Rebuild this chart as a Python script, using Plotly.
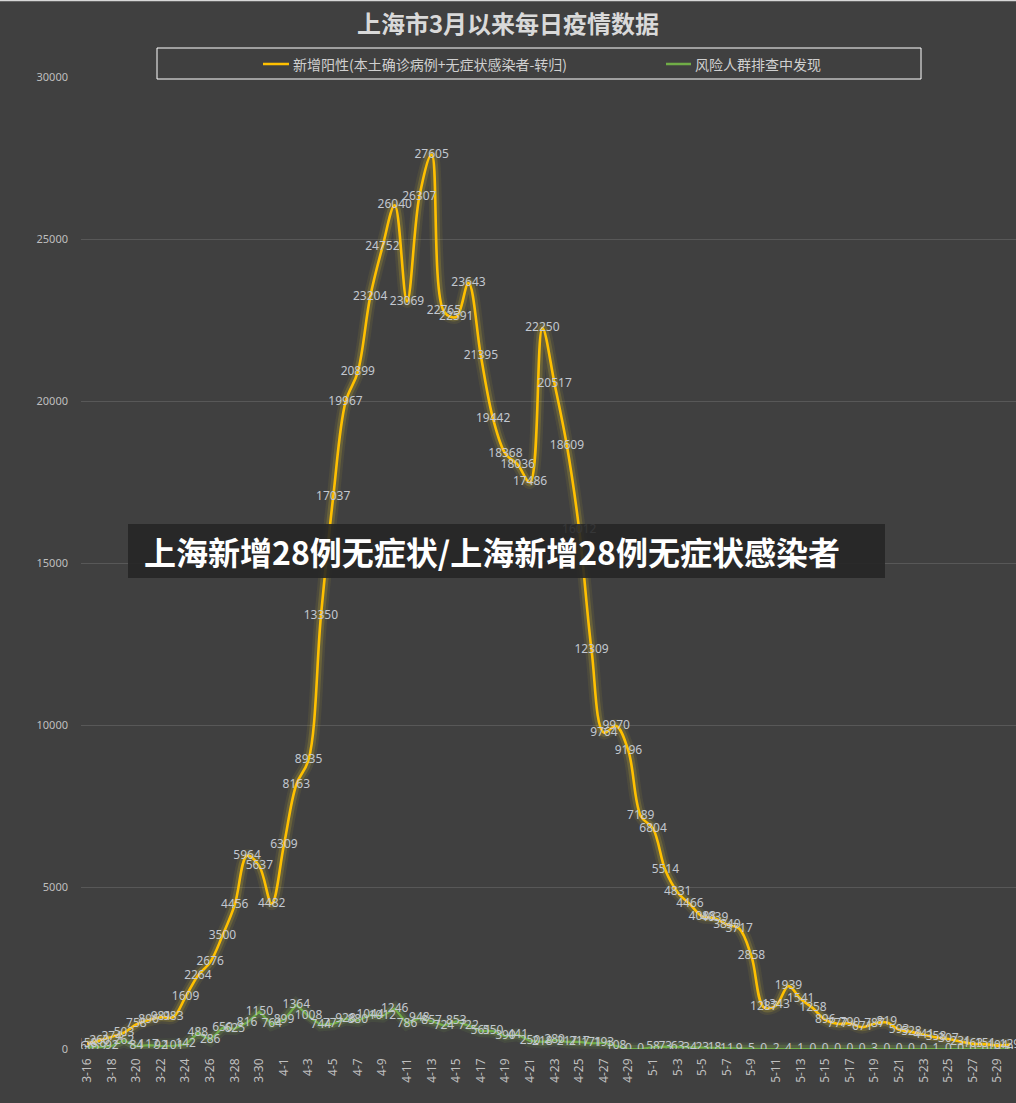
import plotly.graph_objects as go

# ---------------- data ----------------
dates = (
    [f"3-{d}" for d in range(16, 32)]
    + [f"4-{d}" for d in range(1, 31)]
    + [f"5-{d}" for d in range(1, 31)]
)

new_positive = [
    158, 260, 374, 503, 758, 896, 981, 983, 1609, 2264, 2676, 3500, 4456, 5964, 5637, 4482,   # 3-16..3-31
    6309, 8163, 8935, 13350, 17037, 19967, 20899, 23204, 24752, 26040,                          # 4-1..4-10
    23069, 26307, 27605, 22765, 22591, 23643, 21395, 19442, 18368, 18036,                       # 4-11..4-20
    17486, 22250, 20517, 18609, 16012, 12309, 9764, 9970, 9196, 7189,                           # 4-21..4-30
    6804, 5514, 4831, 4466, 4088, 4039, 3840, 3717, 2858, 1287,                                  # 5-1..5-10
    1343, 1939, 1541, 1258, 896, 777, 790, 671, 787, 819,                                        # 5-11..5-20
    593, 528, 441, 358, 307, 231, 163, 151, 104, 129,                                            # 5-21..5-30
]

risk_screening = [
    66, 59, 92, 262, 84, 117, 92, 101, 142, 488, 286, 650, 625, 816, 1150, 764,                 # 3-16..3-31
    899, 1364, 1008, 744, 777, 928, 880, 1044, 1012, 1246,                                       # 4-1..4-10
    786, 948, 857, 724, 853, 722, 561, 550, 390, 441,                                            # 4-11..4-20
    250, 218, 280, 217, 217, 171, 193, 108, 0, 0,                                                # 4-21..4-30
    58, 73, 63, 34, 23, 18, 11, 9, 5, 0,                                                         # 5-1..5-10
    2, 4, 1, 0, 0, 0, 0, 0, 3, 0,                                                                # 5-11..5-20
    0, 0, 0, 1, 0, 0, 0, 0, 0, 0,                                                                # 5-21..5-30
]

series_names = ["新增阳性(本土确诊病例+无症状感染者-转归)", "风险人群排查中发现"]
y_ticks = [0, 5000, 10000, 15000, 20000, 25000, 30000]
title_text = "上海市3月以来每日疫情数据"
banner_text = "上海新增28例无症状/上海新增28例无症状感染者"

# ---------------- styling / geometry ----------------
W, H = 1016, 1103
L, R, T, B = 81, 1016, 77, 1049
BG = "#404040"
YELLOW = "#FFC000"
GREEN = "#70AD47"
LABEL = "#c3c8d0"
CJK = "Noto Sans CJK SC, Noto Sans, sans-serif"


def px(x):
    return (x - L) / (R - L)


def py(y):
    return (B - y) / (B - T)


xs = list(range(len(dates)))

fig = go.Figure()

# glow layers
for w, a in [(13, 0.07), (8, 0.16)]:
    fig.add_trace(go.Scatter(
        x=xs, y=risk_screening, mode="lines",
        line=dict(color=f"rgba(160,220,80,{a})", width=w, shape="linear"),
        hoverinfo="skip", showlegend=False))
    fig.add_trace(go.Scatter(
        x=xs, y=new_positive, mode="lines",
        line=dict(color=f"rgba(255,225,40,{a})", width=w, shape="spline", smoothing=1),
        hoverinfo="skip", showlegend=False))

# main lines
fig.add_trace(go.Scatter(
    x=xs, y=risk_screening, mode="lines+text", name=series_names[1],
    line=dict(color=GREEN, width=2.2, shape="linear"),
    text=[str(v) for v in risk_screening], textposition="middle center",
    textfont=dict(family="Noto Sans, sans-serif", size=12, color=LABEL),
    showlegend=False))
fig.add_trace(go.Scatter(
    x=xs, y=new_positive, mode="lines+text", name=series_names[0],
    line=dict(color=YELLOW, width=2.6, shape="spline", smoothing=1),
    text=[str(v) for v in new_positive], textposition="middle center",
    textfont=dict(family="Noto Sans, sans-serif", size=12, color=LABEL),
    showlegend=False))

shapes = []
annotations = []

# legend box
shapes.append(dict(type="rect", xref="paper", yref="paper",
                   x0=px(157), x1=px(921), y0=py(79), y1=py(48),
                   line=dict(color="#ffffff", width=1), fillcolor=BG, layer="above"))
leg_y = 64
for (x0, x1, tx, col, name) in [(263, 289, 291, YELLOW, series_names[0]),
                                 (666, 691, 693, GREEN, series_names[1])]:
    shapes.append(dict(type="line", xref="paper", yref="paper",
                       x0=px(x0), x1=px(x1), y0=py(leg_y), y1=py(leg_y),
                       line=dict(color=col, width=2.5), layer="above"))
    annotations.append(dict(xref="paper", yref="paper", x=px(tx), y=py(leg_y),
                            xanchor="left", yanchor="middle", showarrow=False,
                            text=name, font=dict(family=CJK, size=14, color="#d0d0d0")))

# banner overlay
shapes.append(dict(type="rect", xref="paper", yref="paper",
                   x0=px(128), x1=px(885), y0=py(578), y1=py(524),
                   line=dict(width=0), fillcolor="rgba(38,38,38,0.9)", layer="above"))
annotations.append(dict(xref="paper", yref="paper", x=px(142), y=py(551),
                        xanchor="left", yanchor="middle", showarrow=False,
                        text=f"<b>{banner_text}</b>",
                        font=dict(family=CJK, size=32, color="#ffffff")))

# top light border
shapes.append(dict(type="line", xref="paper", yref="paper",
                   x0=px(0), x1=px(W), y0=py(0.5), y1=py(0.5),
                   line=dict(color="#d8d8d8", width=1.5), layer="above"))

fig.update_layout(
    width=W, height=H,
    margin=dict(l=L, r=W - R, t=T, b=H - B, pad=0),
    paper_bgcolor=BG, plot_bgcolor=BG,
    title=dict(text=f"<b>{title_text}</b>", x=0.5, xref="container", xanchor="center",
               y=1 - 25 / H, yref="container", yanchor="middle",
               font=dict(family=CJK, size=24, color="#d9d9d9")),
    xaxis=dict(range=[-0.5, len(dates) - 0.5], tickmode="array",
               tickvals=xs[::2], ticktext=dates[::2], tickangle=-90,
               ticklabelstandoff=6,
               showgrid=False, zeroline=False, showline=False, ticks="",
               tickfont=dict(family="Noto Sans, sans-serif", size=12, color="#bfbfbf")),
    yaxis=dict(range=[0, 30000], tickmode="array", tickvals=y_ticks,
               ticktext=[str(v) for v in y_ticks], ticklabelstandoff=12,
               showgrid=True, gridcolor="#585858", gridwidth=1,
               zeroline=False, showline=False, ticks="",
               tickfont=dict(family="Noto Sans, sans-serif", size=11, color="#bfbfbf")),
    shapes=shapes, annotations=annotations,
    showlegend=False,
)

fig.write_html("out.html")
